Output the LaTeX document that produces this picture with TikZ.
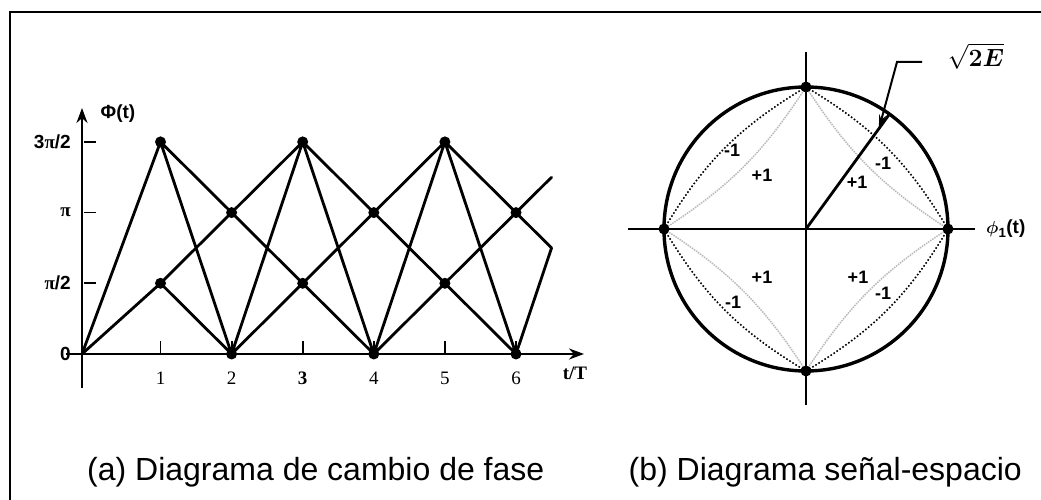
\documentclass[tikz,border=0pt]{standalone}
\usepackage{amsmath}
\usepackage{fontspec}
\setmainfont{Liberation Sans}
\newfontfamily\numfont{Liberation Serif}
\usetikzlibrary{arrows.meta,calc}
\tikzset{
  axisln/.style={-{Stealth[length=15pt,width=11pt]}, line width=2.4pt},
  pathln/.style={line width=2.8pt, line cap=round, line join=round},
  outerln/.style={dotted, line width=1.6pt},
  innerln/.style={densely dotted, line width=1.5pt, gray!55},
  ticklab/.style={font=\fontsize{19}{19}\selectfont\bfseries, inner sep=0pt},
  numlab/.style={font=\fontsize{19}{19}\selectfont\numfont, inner sep=0pt},
  quadlab/.style={font=\fontsize{18}{18}\selectfont\bfseries, inner sep=0pt},
  caplab/.style={font=\fontsize{32}{34}\selectfont, inner sep=0pt},
}
\newcommand{\latdot}[1]{%
  \fill #1 circle (5.5pt);
}

\begin{document}
\begin{tikzpicture}[x=1pt, y=1pt]
  \useasboundingbox (0,0) rectangle (1041,500);
  % frame
  \draw[line width=2.2pt] (10,0) -- (10,488) -- (1041,488);

  % (a) phase lattice
  \coordinate (o) at (82,146);
  \foreach \k in {1,...,6} {
    \foreach \j in {0,...,3} {
      \coordinate (m-\k-\j) at ({89.4+71.1*\k},{146+70.7*\j});
    }
  }
  \coordinate (e-up) at ({89.4+71.1*6.5},{146+70.7*2.5});
  \coordinate (e-dn) at ({89.4+71.1*6.5},{146+70.7*1.5});
  \coordinate (xa-l) at (66,146);
  \coordinate (xa-r) at (584,146);
  \coordinate (ya-b) at (82,112);
  \coordinate (ya-t) at (82,392);
  \draw[axisln] (xa-l) -- (xa-r);
  \draw[axisln] (ya-b) -- (ya-t);
  \foreach \k in {1,...,6}
    \draw[line width=1.8pt] (m-\k-0) -- ++(0,13);
  \foreach \j in {1,2,3}
    \draw[line width=1.8pt] ($(o)+(2,70.7*\j)$) -- ++(12,0);

  \foreach \k/\n/\p/\q/\r/\s in {1/2/1/3/0/2, 2/3/0/2/1/3, 3/4/1/3/0/2,
                                 4/5/0/2/1/3, 5/6/1/3/0/2} {
    \draw[pathln] (m-\k-\p) -- (m-\n-\r) (m-\k-\p) -- (m-\n-\s)
                  (m-\k-\q) -- (m-\n-\r) (m-\k-\q) -- (m-\n-\s);
  }
  \draw[pathln] (m-1-3) -- (o) -- (m-1-1);
  \draw[pathln] (e-up) -- (m-6-2) -- (e-dn) -- (m-6-0);
  \foreach \k/\p/\q in {1/1/3, 2/0/2, 3/1/3, 4/0/2, 5/1/3, 6/0/2} {
    \latdot{(m-\k-\p)}
    \latdot{(m-\k-\q)}
  }

  \foreach \j/\lab in {0/0, 1/{{\numfont π}/2}, 2/{\numfont π}, 3/{3{\numfont π}/2}}
    \node[ticklab, anchor=east] (yl-\j) at (71,{146+70.7*\j}) {\lab};
  \foreach \k/\lab in {1/1, 2/2, 3/\bfseries 3, 4/4, 5/5, 6/6}
    \node[numlab] (xl-\k) at ($(m-\k-0)+(0,-24)$) {\lab};
  \node[numlab, font=\fontsize{19}{19}\selectfont\numfont\bfseries] (tT) at (575,127) {t/T};
  \node[ticklab] (Phi) at (118,386) {Φ(t)};

  % (b) signal space
  \coordinate (c) at (806,271);
  \coordinate (top) at (806,413);
  \coordinate (bot) at (806,129);
  \coordinate (lft) at (664,271);
  \coordinate (rgt) at (948,271);
  \coordinate (h-l) at (628,271);
  \coordinate (h-r) at (975,271);
  \coordinate (v-b) at (806,95);
  \coordinate (v-t) at (806,448);
  \draw[line width=2.4pt] (h-l) -- (h-r);
  \draw[line width=2.4pt] (v-b) -- (v-t);
  \draw[line width=3.4pt] (c) circle (142);
  \foreach \a/\b in {lft/top, top/rgt, rgt/bot, bot/lft} {
    \draw[outerln] (\a) to[bend left=14] (\b);
    \draw[innerln] (\a) to[bend right=12] (\b);
  }
  \foreach \p in {top, bot, lft, rgt}
    \latdot{(\p)}
  \coordinate (rim) at ($(c)+(54:142)$);
  \coordinate (tip) at ($(c)+(54:124)$);
  \draw[line width=2.8pt] (c) -- (rim);
  \coordinate (ld-a) at (922,438);
  \coordinate (ld-b) at (897,438);
  \draw[line width=2pt, -{Stealth[length=14pt,width=7pt]}] (ld-a) -- (ld-b) -- (tip);
  \node[font=\fontsize{27}{27}\selectfont, inner sep=0pt] (rad) at (976,444) {$\sqrt{\boldsymbol{2E}}$};
  \node[font=\fontsize{19}{19}\selectfont\bfseries, anchor=west, inner sep=0pt] (phi1)
    at (986,271) {$\boldsymbol{\phi}$\textsubscript{1}(t)};

  \foreach \dx/\dy/\lab in {-74/79/-1, -44/54/+1, 77/66/-1, 51/47/+1,
                            -44/-48/+1, -73/-73/-1, 52/-48/+1, 77/-64/-1}
    \node[quadlab] at ($(c)+(\dx,\dy)$) {\lab};

  \node[caplab, anchor=west] (cap-a) at (87,28) {(a) Diagrama de cambio de fase};
  \node[caplab, anchor=east] (cap-b) at (1022,28) {(b) Diagrama señal-espacio};
\end{tikzpicture}
\end{document}
